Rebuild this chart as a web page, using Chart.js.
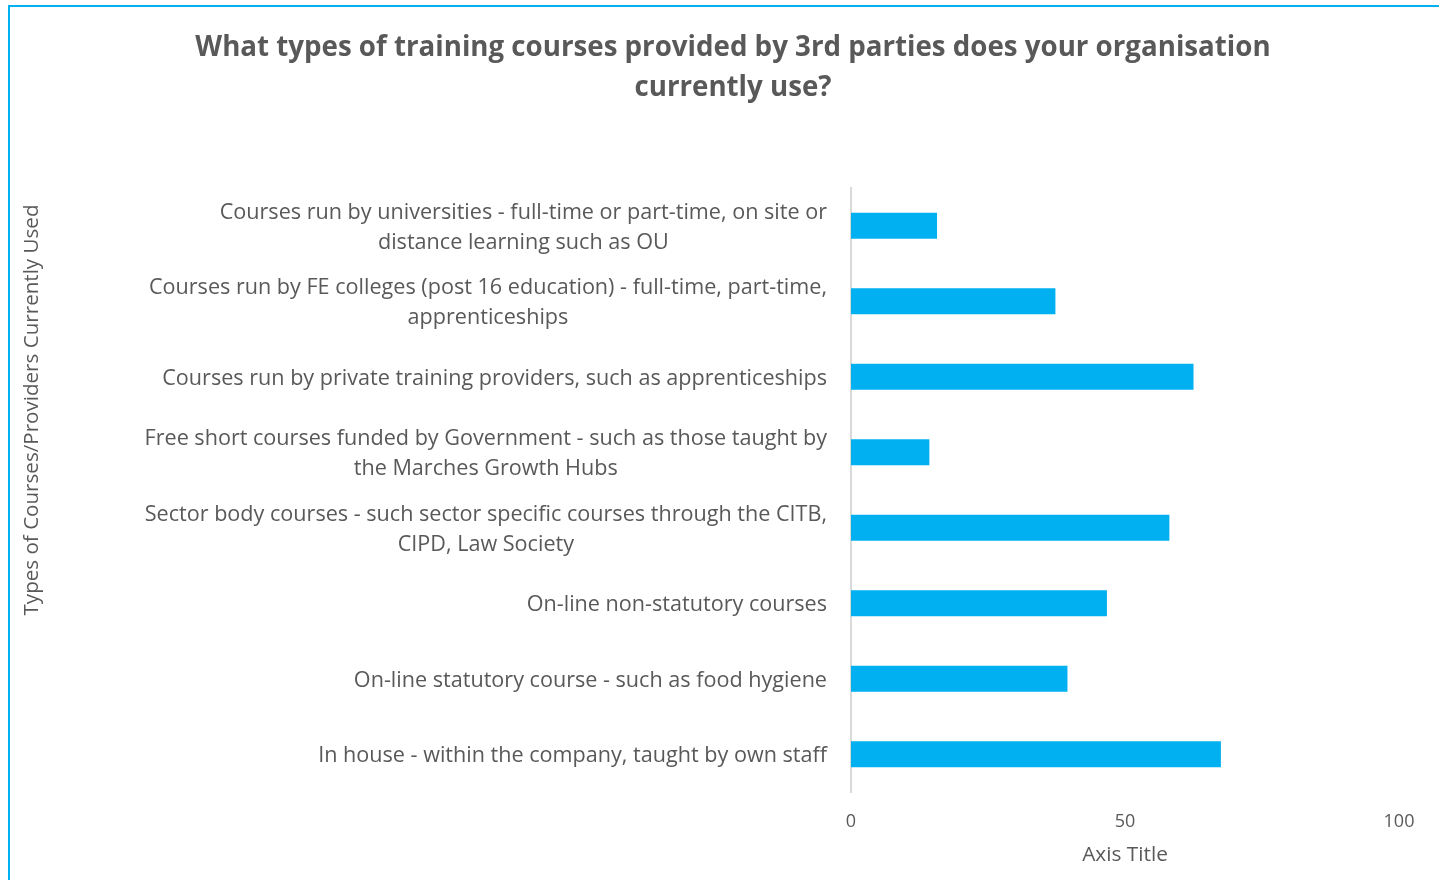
<!DOCTYPE html>
<html>
<head>
<meta charset="utf-8">
<script src="https://cdn.jsdelivr.net/npm/chart.js@4"></script>
<style>
  html,body{margin:0;padding:0;background:#fff;overflow:hidden;}
  #frame{position:absolute;left:8px;top:5px;width:1500px;height:1000px;border:2px solid #00B0F0;}
  #fpsChart{position:absolute;left:0;top:0;}
</style>
</head>
<body>
<div id="frame"></div>
<canvas id="fpsChart" width="1439" height="880"></canvas>
<script>
// --- data
const categories = [
  ['Courses run by universities - full-time or part-time, on site or', 'distance learning such as OU'],
  ['Courses run by FE colleges (post 16 education) - full-time, part-time,', 'apprenticeships'],
  ['Courses run by private training providers, such as apprenticeships'],
  ['Free short courses funded by Government - such as those taught by', 'the Marches Growth Hubs'],
  ['Sector body courses - such sector specific courses through the CITB,', 'CIPD, Law Society'],
  ['On-line non-statutory courses'],
  ['On-line statutory course - such as food hygiene'],
  ['In house - within the company, taught by own staff']
];
const values = [15.7, 37.3, 62.5, 14.3, 58.1, 46.7, 39.5, 67.5];
const xTicks = [0, 50, 100];

const chartTitle = ['What types of training courses provided by 3rd parties does your organisation', 'currently use?'];
const yTitle = 'Types of Courses/Providers Currently Used';
const xTitle = 'Axis Title';

const FONT = '"Open Sans", sans-serif';
const GREY = '#595959';

// --- draw wrapped category labels (block right-aligned, lines centred) + y axis title
const labelPlugin = {
  id: 'catLabels',
  afterDraw(chart){
    const ctx = chart.ctx;
    const y = chart.scales.y;
    const right = chart.chartArea.left - 24;
    ctx.save();
    ctx.fillStyle = GREY;
    ctx.font = '21.6px ' + FONT;
    ctx.textBaseline = 'middle';
    ctx.textAlign = 'center';
    categories.forEach((lines, i) => {
      const yc = y.getPixelForValue(i) + 2;
      const w = Math.max(...lines.map(l => ctx.measureText(l).width));
      const cx = right - w/2;
      lines.forEach((l, j) => ctx.fillText(l, cx, yc + (j - (lines.length-1)/2)*30));
    });
    // rotated y axis title
    ctx.font = '20.6px ' + FONT;
    ctx.translate(32, 410);
    ctx.rotate(-Math.PI/2);
    ctx.fillText(yTitle, 0, 0);
    ctx.restore();
  }
};

const ctx = document.getElementById('fpsChart').getContext('2d');
new Chart(ctx, {
  type: 'bar',
  data: {
    labels: categories.map(c => c.join(' ')),
    datasets: [{ data: values, backgroundColor: '#00B0F0', barPercentage: 0.345, categoryPercentage: 1 }]
  },
  options: {
    responsive: false,
    animation: false,
    indexAxis: 'y',
    layout: { padding: { left: 67, right: 40, top: 0, bottom: 0 } },
    plugins: {
      legend: { display: false },
      tooltip: { enabled: false },
      title: {
        display: true,
        text: chartTitle,
        color: GREY,
        font: { family: FONT, size: 27.7, weight: 'bold', lineHeight: 1.445 },
        padding: { top: 28, bottom: 80 }
      }
    },
    scales: {
      x: {
        min: 0, max: 100,
        afterBuildTicks: s => { s.ticks = xTicks.map(v => ({ value: v })); },
        afterFit: s => { s.height = 88; },
        grid: { display: false },
        border: { display: false },
        ticks: { color: GREY, font: { family: FONT, size: 18 }, padding: 11, maxRotation: 0 },
        title: { display: true, text: xTitle, color: GREY, font: { family: FONT, size: 20.8 }, padding: { top: 4, bottom: 12 } }
      },
      y: {
        afterFit: s => { s.width = 851 - 67; },
        grid: { display: false },
        border: { display: true, color: '#d9d9d9', width: 2 },
        ticks: { display: false }
      }
    }
  },
  plugins: [labelPlugin]
});
</script>
</body>
</html>
